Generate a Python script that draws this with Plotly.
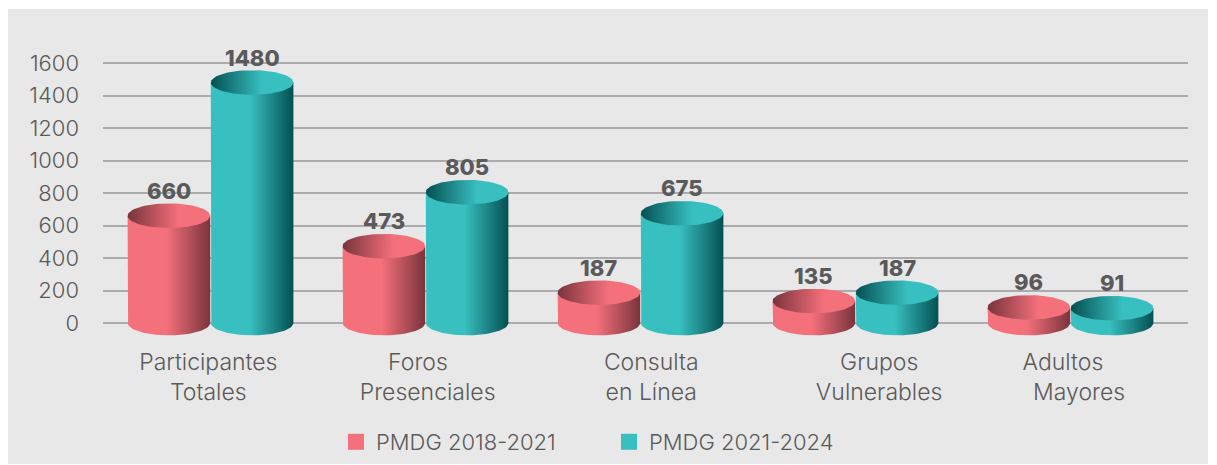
import numpy as np
import plotly.graph_objects as go

categories = ["Participantes", "Foros", "Consulta", "Grupos", "Adultos"]
categories_line2 = ["Totales", "Presenciales", "en Línea", "Vulnerables", "Mayores"]
series_names = ["PMDG 2018-2021", "PMDG 2021-2024"]
pmdg_2018_2021 = [660, 473, 187, 135, 96]
pmdg_2021_2024 = [1480, 805, 675, 187, 91]
y_ticks = [0, 200, 400, 600, 800, 1000, 1200, 1400, 1600]

# layout constants (pixels)
W, H = 1217, 465
L, R, T, B = 103, 29, 20, 120
PX_X = 215.0            # pixels per category
PX_Y = 0.1625           # pixels per value unit
X0 = (210.5 - L) / PX_X
HALF = 41.3 / PX_X
OFF = 41.6 / PX_X
EH = 12.3 / PX_Y
PINK, PINK_D = "#F4707B", "#7A343C"
TEAL, TEAL_D = "#38BFBF", "#045052"
TEXT = "#5A5A5A"
FONT = "Inter, 'Open Sans', sans-serif"
LABEL_NUDGE = [-0.01, 0.01, 0.05, 0.11, 0.04]
PAD1 = [0, 3, 0, 0, 5]   # no-break spaces after the first line
FS = 22
FS_X = 23

x_range = [-X0, (W - R - L) / PX_X - X0]
y_min = -(H - B - 323) / PX_Y
y_range = [y_min, y_min + (H - T - B) / PX_Y]

t = np.linspace(0, np.pi, 41)


def body_scale(light, dark):
    return [[0, light], [0.47, light], [1, dark]]


def top_scale(light, dark):
    return [[0, dark], [0.62, light], [1, light]]


fig = go.Figure()


def cylinder(cx, v, light, dark):
    bx = cx - HALF * np.cos(t)
    by = -EH * np.sin(t)
    xs = [cx - HALF] + list(bx) + [cx + HALF, cx - HALF]
    ys = [v] + list(by) + [v, v]
    fig.add_trace(go.Scatter(x=xs, y=ys, mode="lines", line=dict(width=0), fill="toself",
                             fillgradient=dict(type="horizontal", colorscale=body_scale(light, dark)),
                             showlegend=False, hoverinfo="skip", cliponaxis=False))
    a = np.linspace(0, 2 * np.pi, 81)
    fig.add_trace(go.Scatter(x=cx + HALF * np.cos(a), y=v + EH * np.sin(a), mode="lines",
                             line=dict(width=0), fill="toself",
                             fillgradient=dict(type="horizontal", colorscale=top_scale(light, dark)),
                             showlegend=False, hoverinfo="skip", cliponaxis=False))


annotations = []
for i in range(len(categories)):
    for vals, sign, c, d in ((pmdg_2018_2021, -1, PINK, PINK_D), (pmdg_2021_2024, 1, TEAL, TEAL_D)):
        cx = i + sign * OFF
        cylinder(cx, vals[i], c, d)
        annotations.append(dict(x=cx, y=vals[i], yshift=25, text=str(vals[i]), showarrow=False,
                                xanchor="center", yanchor="middle",
                                font=dict(family=FONT, size=22, color=TEXT, weight=800)))

for name, c in zip(series_names, (PINK, TEAL)):
    fig.add_trace(go.Scatter(x=[None], y=[None], mode="markers", name=name,
                             marker=dict(symbol="square", size=16, color=c)))

ticktext = [a + "\u00a0" * PAD1[i] + "<br>" + b
            for i, (a, b) in enumerate(zip(categories, categories_line2))]

fig.update_layout(
    width=W, height=H,
    margin=dict(l=L, r=R, t=T, b=B, pad=0, autoexpand=False),
    paper_bgcolor="#FFFFFF", plot_bgcolor="rgba(0,0,0,0)",
    font=dict(family=FONT, color=TEXT, size=FS),
    annotations=annotations,
    xaxis=dict(range=x_range, tickmode="array",
               tickvals=[i + d for i, d in enumerate(LABEL_NUDGE)],
               ticktext=ticktext, showgrid=False, zeroline=False, showline=False, ticks="",
               ticklabelstandoff=1, tickfont=dict(size=FS_X, color=TEXT, family=FONT, weight=300)),
    yaxis=dict(range=y_range, tickmode="array", tickvals=y_ticks, showgrid=True, gridcolor="#ABABAB",
               gridwidth=2, zeroline=False, showline=False, ticks="", ticklabelstandoff=23,
               tickfont=dict(size=FS, color=TEXT, family=FONT, weight=300)),
    legend=dict(orientation="h", x=(336 - L) / (W - L - R), y=(H - B - 442) / (H - T - B), yanchor="middle",
                xanchor="left", itemsizing="trace", bgcolor="rgba(0,0,0,0)",
                entrywidth=228, entrywidthmode="pixels",
                font=dict(size=FS, color=TEXT, family=FONT, weight=300)),
    shapes=[dict(type="rect", xref="paper", yref="paper", layer="below",
                 x0=(8 - L) / (W - L - R), x1=(1208 - L) / (W - L - R),
                 y0=(H - B - 464) / (H - T - B), y1=(H - B - 9) / (H - T - B),
                 fillcolor="#E8E8E8", line=dict(width=0))],
)

fig.write_html("out.html", config={"displayModeBar": False},
               post_script="document.body.style.margin='0';document.body.style.overflow='hidden';")
